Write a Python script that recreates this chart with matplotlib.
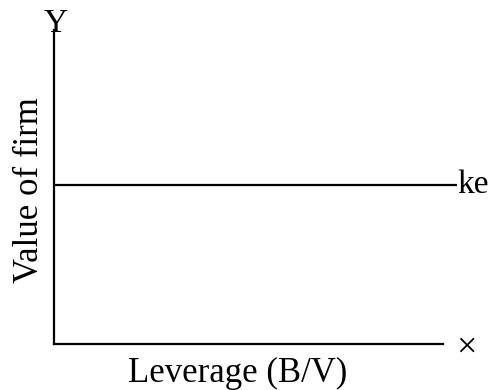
import matplotlib
matplotlib.use("Agg")
import matplotlib.pyplot as plt

plt.rcParams['font.family'] = ['Liberation Serif', 'DejaVu Serif']

# Data
leverage = [0.0, 1.036]
value_ke = [0.506, 0.506]
x_label = "Leverage (B/V)"
y_label = "Value of firm"
line_label = "ke"

fig = plt.figure(figsize=(4.89, 3.90), dpi=100)
ax = fig.add_axes([54/489, 46/390, 389/489, 314/390])
ax.set_xlim(0, 1)
ax.set_ylim(0, 1)
for s in ['top', 'right']:
    ax.spines[s].set_visible(False)
for s in ['left', 'bottom']:
    ax.spines[s].set_linewidth(1.6)
ax.set_xticks([])
ax.set_yticks([])

ax.plot(leverage, value_ke, color='black', lw=1.6, solid_capstyle='butt', clip_on=False)
ax.text(leverage[-1], value_ke[-1], line_label, fontsize=24, va='center', ha='left')

ax.text(0.005, 0.995, "Y", fontsize=24, ha='center', va='baseline', transform=ax.transAxes)
ax.text(1.035, -0.012, "×", fontsize=26, ha='left', va='center', transform=ax.transAxes)

ax.set_xlabel(x_label, fontsize=25)
ax.xaxis.set_label_coords(0.473, -0.04, transform=ax.transAxes)
ax.xaxis.label.set_va('top')
ax.set_ylabel(y_label, fontsize=25, labelpad=6)
ax.yaxis.label.set_y(0.49)

fig.savefig("out.png", dpi=100)
